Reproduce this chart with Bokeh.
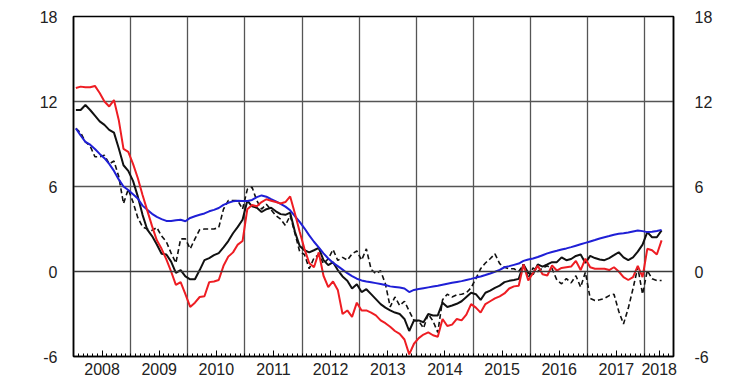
from bokeh.plotting import figure
from bokeh.models import (FixedTicker, LinearAxis, Range1d, Span,
                          CustomJSTickFormatter, ColumnDataSource)
from bokeh.embed import file_html
from bokeh.resources import INLINE

# Monthly observations, Jan 2008 .. Apr 2018 (plotted at mid-month)
start_year = 2008
red = [12.95, 13.05, 13.0, 13.0, 13.1, 12.6, 12.0, 11.65, 12.1, 10.7, 8.65, 8.45,
       7.6, 6.6, 5.4, 4.3, 3.2, 2.2, 1.6, 0.85, 0.0, -0.95, -0.75, -1.6,
       -2.5, -2.2, -1.8, -1.75, -0.75, -0.7, -0.6, 0.4, 1.05, 1.35, 1.9, 2.15,
       4.4, 4.7, 4.6, 4.9, 5.1, 5.0, 4.9, 4.8, 4.9, 5.3, 4.1, 2.8,
       1.6, 0.6, 0.3, 1.35, -0.3, -1.1, -0.7, -1.3, -3.0, -2.75, -3.2, -2.2,
       -2.75, -2.75, -2.9, -3.1, -3.45, -3.65, -3.9, -4.2, -4.4, -4.8, -5.85, -5.1,
       -4.7, -4.45, -4.3, -4.5, -4.6, -3.35, -3.85, -3.75, -3.35, -3.45, -3.05, -2.3,
       -2.55, -2.9, -2.3, -2.1, -1.9, -1.75, -1.55, -1.2, -1.05, -1.0, 0.5, -0.64,
       -0.1, 0.4, -0.2, -0.28, 0.42, 0.07, 0.25, 0.3, 0.35, 0.75, 0.1, 0.9,
       0.3, 0.2, 0.2, 0.19, 0.1, 0.3, 0.0, -0.4, -0.6, -0.4, 0.4, -0.4,
       1.6, 1.5, 1.2, 2.2]
black = [11.4, 11.4, 11.75, 11.4, 11.0, 10.6, 10.35, 10.0, 9.8, 8.7, 7.5, 7.1,
         6.4, 5.3, 4.0, 2.95, 2.5, 1.9, 1.25, 1.2, 0.7, -0.1, 0.1, -0.35,
         -0.55, -0.55, 0.1, 0.8, 0.95, 1.15, 1.3, 1.7, 2.15, 2.7, 3.15, 3.65,
         5.0, 4.6, 4.5, 4.2, 4.4, 4.5, 4.25, 4.05, 4.0, 4.15, 2.8, 1.8,
         1.5, 1.35, 1.5, 1.67, 0.8, 0.45, 0.66, 0.1, -0.35, -0.65, -1.2, -0.9,
         -1.45, -1.25, -1.6, -1.95, -2.3, -2.55, -2.75, -2.9, -3.0, -3.35, -4.2, -3.45,
         -3.45, -3.58, -3.0, -3.1, -3.1, -2.2, -2.5, -2.4, -2.28, -2.1, -1.8, -1.5,
         -1.6, -2.0, -1.5, -1.35, -1.15, -1.0, -0.75, -0.66, -0.6, -0.52, 0.5, -0.1,
         -0.2, 0.5, 0.35, 0.5, 0.66, 0.66, 1.0, 0.8, 0.88, 1.1, 1.2, 0.6,
         1.1, 0.95, 0.85, 0.8, 0.95, 1.15, 1.36, 1.0, 0.8, 1.0, 1.4, 1.9,
         2.78, 2.42, 2.42, 2.9]
dashed = [10.1, 9.8, 9.15, 8.85, 8.1, 8.1, 8.2, 7.6, 7.8, 6.7, 4.8, 5.8,
          4.9, 3.8, 3.15, 3.0, 2.9, 3.1, 2.5, 2.1, 1.3, 0.6, 2.3, 2.3,
          1.6, 2.3, 2.95, 3.0, 3.0, 3.0, 3.1, 4.4, 5.0, 5.0, 5.0, 4.4,
          5.8, 5.95, 5.0, 4.4, 4.75, 4.35, 3.95, 3.7, 3.25, 3.95, 2.7, 1.4,
          1.2, 0.2, 0.95, 1.2, 0.55, 0.9, 1.55, 0.78, 1.0, 0.8, 1.25, 1.45,
          0.8, 1.6, 0.15, -0.15, 0.05, -0.87, -2.5, -1.8, -2.4, -2.1, -2.8, -3.45,
          -3.5, -4.0, -3.0, -3.5, -4.3, -2.0, -1.6, -1.8, -1.65, -1.6, -1.5, -1.15,
          -0.5, 0.2, 0.6, 0.9, 1.25, 0.55, 0.3, 0.19, 0.19, 0.0, 0.5, -0.45,
          0.25, 0.0, 0.25, 0.4, 0.2, -0.6, -0.87, -0.5, -0.8, -0.3, -1.1, -0.05,
          -1.9, -2.05, -2.0, -1.9, -1.7, -1.6, -2.8, -3.7, -2.6, -1.2, 0.3, -1.6,
          0.07, -0.52, -0.64, -0.64]
blue = [10.1, 9.6, 9.15, 8.95, 8.65, 8.3, 8.0, 7.6, 7.1, 6.5, 6.0, 5.75,
        5.45, 5.15, 4.65, 4.35, 4.07, 3.85, 3.7, 3.57, 3.57, 3.62, 3.65, 3.55,
        3.78, 3.9, 4.0, 4.1, 4.25, 4.35, 4.48, 4.7, 4.85, 4.95, 5.0, 4.97,
        4.98, 5.05, 5.25, 5.37, 5.28, 5.1, 4.95, 4.78, 4.58, 4.32, 3.9, 3.5,
        3.05, 2.55, 2.1, 1.7, 1.28, 0.92, 0.62, 0.38, 0.13, -0.12, -0.33, -0.51,
        -0.63, -0.7, -0.76, -0.82, -0.88, -0.95, -1.05, -1.09, -1.13, -1.2, -1.45, -1.3,
        -1.24, -1.18, -1.12, -1.06, -1.0, -0.93, -0.86, -0.8, -0.74, -0.68, -0.6, -0.52,
        -0.43, -0.35, -0.25, -0.14, -0.02, 0.12, 0.3, 0.38, 0.47, 0.56, 0.75, 0.85,
        0.92, 1.02, 1.15, 1.28, 1.38, 1.46, 1.55, 1.63, 1.72, 1.82, 1.92, 2.02,
        2.12, 2.22, 2.33, 2.42, 2.5, 2.6, 2.66, 2.7, 2.75, 2.83, 2.9, 2.85,
        2.78, 2.8, 2.86, 2.94]
years = list(range(2008, 2019))
y_ticks = [-6, 0, 6, 12, 18]

n = len(red)
x = [start_year + (m + 0.5) / 12 for m in range(n)]
src = ColumnDataSource(dict(x=x, red=red, black=black, dashed=dashed, blue=blue))

FONT = "Liberation Sans"
p = figure(width=732, height=381, output_backend="svg", toolbar_location=None,
           x_range=Range1d(2008, 2018.5), y_range=Range1d(-6, 18),
           min_border_left=73, min_border_right=59, min_border_top=16,
           min_border_bottom=25, y_axis_location="left")
p.background_fill_color = "white"
p.border_fill_color = "white"
p.outline_line_color = "black"
p.outline_line_width = 1.5

# Grids
p.xgrid.ticker = FixedTicker(ticks=years[1:])
p.xgrid.grid_line_color = "#555555"
p.xgrid.grid_line_width = 1.3
p.ygrid.ticker = FixedTicker(ticks=[6, 12])
p.ygrid.grid_line_color = "#555555"
p.ygrid.grid_line_width = 1.3
p.add_layout(Span(location=0, dimension="width", line_color="#3a3a3a", line_width=1.5))

# Bottom axis: mid-year major ticks with labels, monthly minor ticks, inward
xa = p.xaxis[0]
mids = [yy + 0.5 for yy in years[:-1]] + [years[-1] + 0.25]
minors = [start_year + k / 12 for k in range(0, 127)]
xa.ticker = FixedTicker(ticks=mids, minor_ticks=minors)
xa.formatter = CustomJSTickFormatter(code="return Math.floor(tick).toString();")
xa.major_tick_in = 6
xa.major_tick_out = 0
xa.minor_tick_in = 3
xa.minor_tick_out = 0
xa.major_tick_line_color = "black"
xa.minor_tick_line_color = "black"
xa.axis_line_color = "black"
xa.axis_line_width = 1.5
xa.major_label_standoff = 6
xa.major_label_text_font = FONT
xa.major_label_text_font_size = "16px"
xa.major_label_text_color = "#222222"

yfmt = "return tick.toString();"

# Left axis
ya = p.yaxis[0]
ya.ticker = FixedTicker(ticks=y_ticks)
ya.formatter = CustomJSTickFormatter(code=yfmt)
ya.major_tick_out = 0
ya.major_tick_in = 0
ya.minor_tick_out = 0
ya.minor_tick_in = 0
ya.axis_line_color = "black"
ya.axis_line_width = 1.5
ya.major_label_standoff = 16
ya.major_label_text_font = FONT
ya.major_label_text_font_size = "16px"
ya.major_label_text_color = "#222222"

# Right axis
ra = LinearAxis(ticker=FixedTicker(ticks=y_ticks),
                formatter=CustomJSTickFormatter(code=yfmt))
ra.major_tick_out = 0
ra.major_tick_in = 0
ra.minor_tick_out = 0
ra.minor_tick_in = 0
ra.axis_line_color = "black"
ra.axis_line_width = 1.5
ra.major_label_standoff = 21
ra.major_label_text_font = FONT
ra.major_label_text_font_size = "16px"
ra.major_label_text_color = "#222222"
p.add_layout(ra, "right")

# Series
p.line("x", "dashed", source=src, line_color="#111111", line_width=1.6, line_dash="5 3")
p.line("x", "black", source=src, line_color="#111111", line_width=2)
p.line("x", "blue", source=src, line_color="#1f1fd6", line_width=2)
p.line("x", "red", source=src, line_color="#ee1d23", line_width=2)

open("out.html", "w").write(file_html(p, INLINE))
